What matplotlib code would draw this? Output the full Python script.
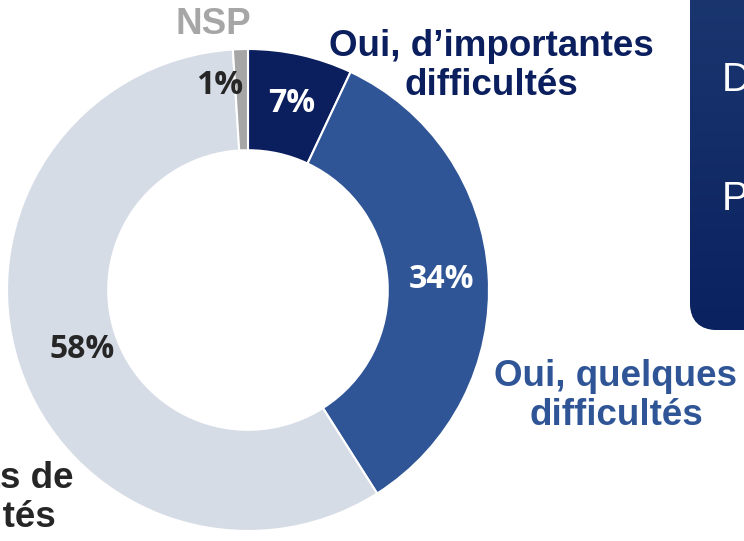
import numpy as np
import matplotlib.pyplot as plt
from matplotlib.patches import FancyBboxPatch
from matplotlib.colors import LinearSegmentedColormap

# donut data (clockwise from top)
labels = ["Oui, d’importantes\ndifficultés", "Oui, quelques\ndifficultés",
          "Non, pas de\ndifficultés", "NSP"]
values = [7, 34, 58, 1]
colors = ["#0b1f5e", "#2f5597", "#d6dce6", "#a6a6a6"]
pct_colors = ["white", "white", "#262626", "#262626"]

W, H = 744, 541
fig = plt.figure(figsize=(W / 100, H / 100), dpi=100)
ax = fig.add_axes([0, 0, 1, 1])

cx, cy, r = 248, H - 290, 241
ax.pie(values, colors=colors, startangle=90, counterclock=False,
       center=(cx, cy), radius=r,
       wedgeprops=dict(width=r * 0.42, edgecolor="white", linewidth=1.5))

# percentage labels
pct_pos = [(292, 104), (441, 279), (82, 349), (220, 86)]
for v, (x, y), c in zip(values, pct_pos, pct_colors):
    ax.text(x, H - y, f"{v}%", color=c, fontsize=23, fontweight="bold",
            family="Open Sans", ha="center", va="center")

# category labels
lab_pos = [(491, 66), (616, 396), (-31, 498), (213, 24)]
lab_colors = ["#0b1f5e", "#2f5597", "#262626", "#a6a6a6"]
for t, (x, y), c in zip(labels, lab_pos, lab_colors):
    ax.text(x, H - y, t, color=c, fontsize=26.5, fontweight="bold",
            family="Liberation Sans", ha="center", va="center",
            linespacing=1.13)

# side panel (cropped at the right edge)
box = FancyBboxPatch((690, H - 330), 120, 400,
                     boxstyle="round,pad=0,rounding_size=28",
                     facecolor="#14306a", edgecolor="none")
ax.add_patch(box)
grad = np.linspace(0, 1, 256).reshape(-1, 1)
cmap = LinearSegmentedColormap.from_list("g", ["#0a2260", "#1e3a72"])
img = ax.imshow(grad, extent=(690, 810, H - 330, H + 70), aspect="auto",
                cmap=cmap, origin="lower", zorder=2)
img.set_clip_path(box)
for t, y in [("D", 80), ("P", 199)]:
    ax.text(722, H - y, t, color="white", fontsize=29,
            family="Liberation Sans", ha="left", va="center", zorder=3)

ax.set_xlim(0, W)
ax.set_ylim(0, H)
ax.set_aspect("equal")
ax.axis("off")

fig.savefig("out.png", dpi=100)
